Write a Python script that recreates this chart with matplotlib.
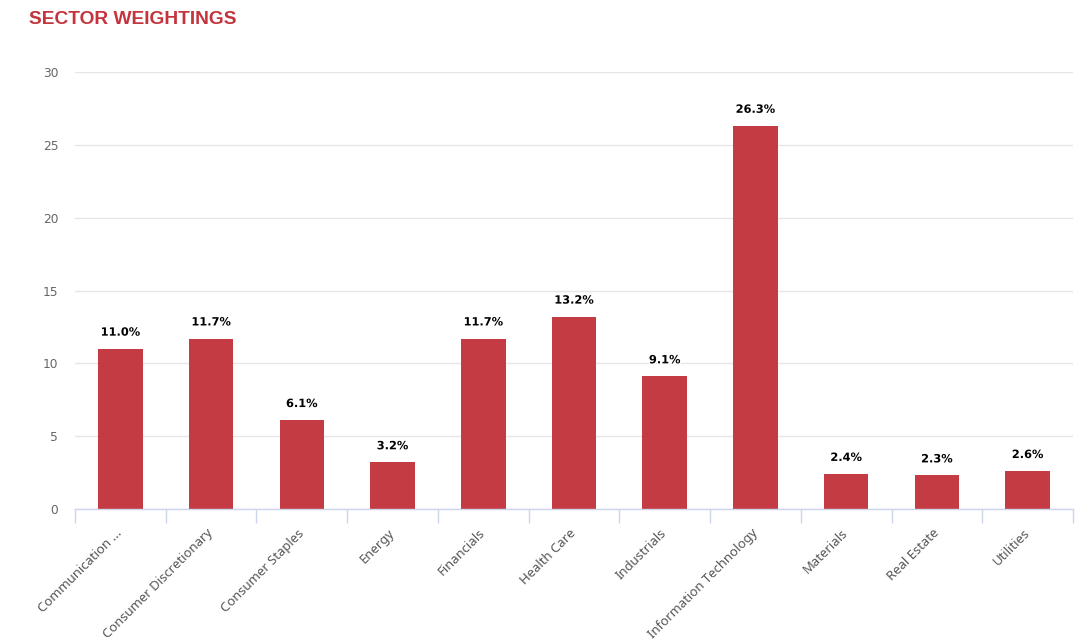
import matplotlib.pyplot as plt
import matplotlib.patheffects as pe
import numpy as np

# ========== Data ==========
sectors = ["Communication ...", "Consumer Discretionary", "Consumer Staples",
           "Energy", "Financials", "Health Care", "Industrials",
           "Information Technology", "Materials", "Real Estate", "Utilities"]
weights = [11.0, 11.7, 6.1, 3.2, 11.7, 13.2, 9.1, 26.3, 2.4, 2.3, 2.6]

BAR_COLOR = "#c43b43"
TITLE_COLOR = "#c4343d"

# ========== Figure ==========
W, H = 1092, 643
fig = plt.figure(figsize=(W / 100, H / 100), dpi=100)
ax = fig.add_axes([75 / W, (H - 509) / H, (1073 - 75) / W, (509 - 72) / H])

x = np.arange(len(sectors))
ax.bar(x, weights, width=0.49, color=BAR_COLOR, zorder=3)

# data labels
for xi, v in zip(x, weights):
    ax.annotate(f"{v:.1f}%", (xi, v), xytext=(0, 8), textcoords="offset points",
                ha="center", va="bottom", fontsize=8.2, fontweight="bold",
                family="DejaVu Sans", color="black", zorder=4,
                path_effects=[pe.withStroke(linewidth=2, foreground="white")])

ax.set_xlim(-0.5, len(sectors) - 0.5)
ax.set_ylim(0, 30)
ax.set_yticks(range(0, 31, 5))
ax.grid(axis="y", color="#e6e6e6", linewidth=1, zorder=0)

# category labels at centers, tick marks at boundaries
ax.set_xticks(x)
ax.set_xticklabels(sectors, rotation=45, ha="right", va="center",
                   rotation_mode="anchor", family="Noto Sans", fontsize=9.4,
                   color="#555555")
ax.tick_params(axis="x", which="major", length=0, pad=16)
ax.set_xticks(np.arange(-0.5, len(sectors)), minor=True)
ax.tick_params(axis="x", which="minor", length=10, width=1, color="#ccd6eb")

ax.tick_params(axis="y", length=0, pad=12, labelsize=8.8, labelcolor="#666666")
for lbl in ax.get_yticklabels():
    lbl.set_family("DejaVu Sans")

for side in ["top", "right", "left"]:
    ax.spines[side].set_visible(False)
ax.spines["bottom"].set_color("#ccd6eb")
ax.spines["bottom"].set_linewidth(1)
ax.spines["bottom"].set_zorder(5)

fig.text(29 / W, 1 - 19 / H, "SECTOR WEIGHTINGS", ha="left", va="center",
         fontsize=13.8, fontweight="bold", family="Liberation Sans",
         color=TITLE_COLOR)

fig.savefig("out.png", dpi=100)
